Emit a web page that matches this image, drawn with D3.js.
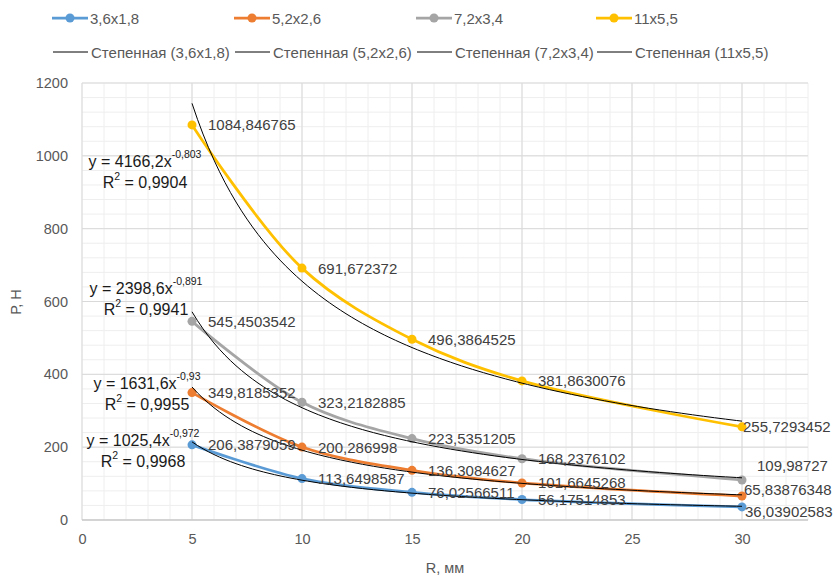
<!DOCTYPE html>
<html>
<head>
<meta charset="utf-8">
<script src="https://cdn.jsdelivr.net/npm/d3@7/dist/d3.min.js"></script>
<style>
  body { margin: 0; background: #fff; }
  svg { display: block; font-family: "Liberation Sans", Arial, sans-serif; }
</style>
</head>
<body>
<div id="chart"></div>
<script>
// R, мм
const radii = [5, 10, 15, 20, 30];
const seriesNames = ["3,6x1,8", "5,2x2,6", "7,2x3,4", "11x5,5"];
const seriesColors = ["#5B9BD5", "#ED7D31", "#A5A5A5", "#FFC000"];

// P, H
const p36 = [206.3879059, 113.6498587, 76.02566511, 56.17514853, 36.03902583];
const p52 = [349.8185352, 200.286998, 136.3084627, 101.6645268, 65.83876348];
const p72 = [545.4503542, 323.2182885, 223.5351205, 168.2376102, 109.98727];
const p11 = [1084.846765, 691.672372, 496.3864525, 381.8630076, 255.7293452];
const values = [p36, p52, p72, p11];

// power trendlines y = a*x^b
const trendA = [1025.4, 1631.6, 2398.6, 4166.2];
const trendB = [-0.972, -0.93, -0.891, -0.803];
const trendR2 = [0.9968, 0.9955, 0.9941, 0.9904];

const xTicks = [0, 5, 10, 15, 20, 25, 30];
const yTicks = [0, 200, 400, 600, 800, 1000, 1200];

const width = 835, height = 580;
const margin = { top: 83, right: 27, bottom: 60, left: 82 };

const svg = d3.select("#chart").append("svg")
    .attr("width", width)
    .attr("height", height);

const x = d3.scaleLinear().domain([0, 33]).range([margin.left, width - margin.right]);
const y = d3.scaleLinear().domain([0, 1200]).range([height - margin.bottom, margin.top]);

const fmt = v => String(v).replace(".", ",");

// grid - minor
const g = svg.append("g");
g.selectAll(".vminor").data(d3.range(0, 34, 1)).join("line")
    .attr("x1", d => x(d)).attr("x2", d => x(d))
    .attr("y1", y(0)).attr("y2", y(1200))
    .attr("stroke", "#eeeeee").attr("stroke-width", 1);
g.selectAll(".hminor").data(d3.range(0, 1201, 40)).join("line")
    .attr("x1", x(0)).attr("x2", x(33))
    .attr("y1", d => y(d)).attr("y2", d => y(d))
    .attr("stroke", "#eeeeee").attr("stroke-width", 1);
// grid - major
g.selectAll(".vmajor").data(xTicks).join("line")
    .attr("x1", d => x(d)).attr("x2", d => x(d))
    .attr("y1", y(0)).attr("y2", y(1200))
    .attr("stroke", "#d9d9d9").attr("stroke-width", 1);
g.selectAll(".hmajor").data(yTicks).join("line")
    .attr("x1", x(0)).attr("x2", x(33))
    .attr("y1", d => y(d)).attr("y2", d => y(d))
    .attr("stroke", "#d9d9d9").attr("stroke-width", 1);
g.append("line")
    .attr("x1", x(0)).attr("x2", x(33))
    .attr("y1", y(0)).attr("y2", y(0))
    .attr("stroke", "#bfbfbf");

// axes labels
const xAxis = d3.axisBottom(x).tickValues(xTicks).tickFormat(d3.format("d")).tickSize(0).tickPadding(14);
svg.append("g").attr("transform", `translate(0,${y(0)})`).call(xAxis)
    .call(s => s.select(".domain").remove())
    .selectAll("text").attr("font-size", "14.5px").attr("fill", "#595959")
    .attr("font-family", "inherit");
const yAxis = d3.axisLeft(y).tickValues(yTicks).tickFormat(d3.format("d")).tickSize(0).tickPadding(14);
svg.append("g").attr("transform", `translate(${x(0)},0)`).call(yAxis)
    .call(s => s.select(".domain").remove())
    .selectAll("text").attr("font-size", "14.5px").attr("fill", "#595959")
    .attr("font-family", "inherit");

svg.append("text")
    .attr("x", (x(0) + x(33)) / 2).attr("y", 573)
    .attr("text-anchor", "middle")
    .attr("font-size", "14.5px").attr("fill", "#595959")
    .text("R, мм");
svg.append("text")
    .attr("transform", `translate(21,302) rotate(-90)`)
    .attr("text-anchor", "middle")
    .attr("font-size", "14.5px").attr("fill", "#595959")
    .text("Р, Н");

// series
const line = d3.line().curve(d3.curveCatmullRom).x(d => x(d[0])).y(d => y(d[1]));
values.forEach((vals, i) => {
    const pts = radii.map((r, j) => [r, vals[j]]);
    svg.append("path")
        .datum(pts)
        .attr("d", line)
        .attr("fill", "none")
        .attr("stroke", seriesColors[i])
        .attr("stroke-width", 2.75);
    svg.append("g").selectAll("circle").data(pts).join("circle")
        .attr("cx", d => x(d[0])).attr("cy", d => y(d[1]))
        .attr("r", 4.5)
        .attr("fill", seriesColors[i]);
});

// trendlines drawn over the series, as Excel does
const trendX = d3.range(5, 30.01, 0.25);
const trendLine = d3.line().x(d => x(d[0])).y(d => y(d[1]));
trendA.forEach((a, i) => {
    svg.append("path")
        .datum(trendX.map(r => [r, a * Math.pow(r, trendB[i])]))
        .attr("d", trendLine)
        .attr("fill", "none")
        .attr("stroke", "#000")
        .attr("stroke-width", 1);
});

// data labels (label nudges for the crowded points at R = 30)
const labelNudge = {
    "0-4": [3, 5], "1-4": [2, -7], "2-4": [15, -14], "3-4": [1, 0]
};
values.forEach((vals, i) => {
    svg.append("g").selectAll("text").data(radii).join("text")
        .attr("x", (r, j) => x(r) + (labelNudge[i + "-" + j] || [16, 0])[0])
        .attr("y", (r, j) => y(vals[j]) + (labelNudge[i + "-" + j] || [16, 0])[1])
        .attr("dominant-baseline", "central")
        .attr("font-size", "15px")
        .attr("fill", "#404040")
        .text((r, j) => fmt(vals[j]));
});

// trendline equations
const eqAnchor = [[143, 220], [147, 376], [146, 637], [145, 986]];
trendA.forEach((a, i) => {
    const t = svg.append("text")
        .attr("x", eqAnchor[i][0]).attr("y", y(eqAnchor[i][1]))
        .attr("text-anchor", "middle")
        .attr("dominant-baseline", "central")
        .attr("font-size", "16px").attr("fill", "#1a1a1a");
    t.append("tspan").text(`y = ${fmt(a)}x`);
    t.append("tspan").attr("dy", -7).attr("font-size", "10.5px").text(fmt(trendB[i]));
    const t2 = svg.append("text")
        .attr("x", eqAnchor[i][0]).attr("y", y(eqAnchor[i][1]) + 21)
        .attr("text-anchor", "middle")
        .attr("dominant-baseline", "central")
        .attr("font-size", "16px").attr("fill", "#1a1a1a");
    t2.append("tspan").text("R");
    t2.append("tspan").attr("dy", -6).attr("font-size", "10.5px").text("2");
    t2.append("tspan").attr("dy", 6).text(` = ${fmt(trendR2[i])}`);
});

// legend
const legendX = [52, 234, 416, 596];
const leg = svg.append("g");
seriesNames.forEach((name, i) => {
    const lx = legendX[i];
    leg.append("line").attr("x1", lx).attr("x2", lx + 36)
        .attr("y1", 18).attr("y2", 18)
        .attr("stroke", seriesColors[i]).attr("stroke-width", 2.75);
    leg.append("circle").attr("cx", lx + 18).attr("cy", 18).attr("r", 4.5)
        .attr("fill", seriesColors[i]);
    leg.append("text").attr("x", lx + 38).attr("y", 18)
        .attr("dominant-baseline", "central")
        .attr("font-size", "15px").attr("fill", "#595959")
        .text(name);
    leg.append("line").attr("x1", lx + 1).attr("x2", lx + 36)
        .attr("y1", 52).attr("y2", 52)
        .attr("stroke", "#000").attr("stroke-width", 1);
    leg.append("text").attr("x", lx + 39).attr("y", 52)
        .attr("dominant-baseline", "central")
        .attr("font-size", "15px").attr("fill", "#595959")
        .text(`Степенная (${name})`);
});
</script>
</body>
</html>
